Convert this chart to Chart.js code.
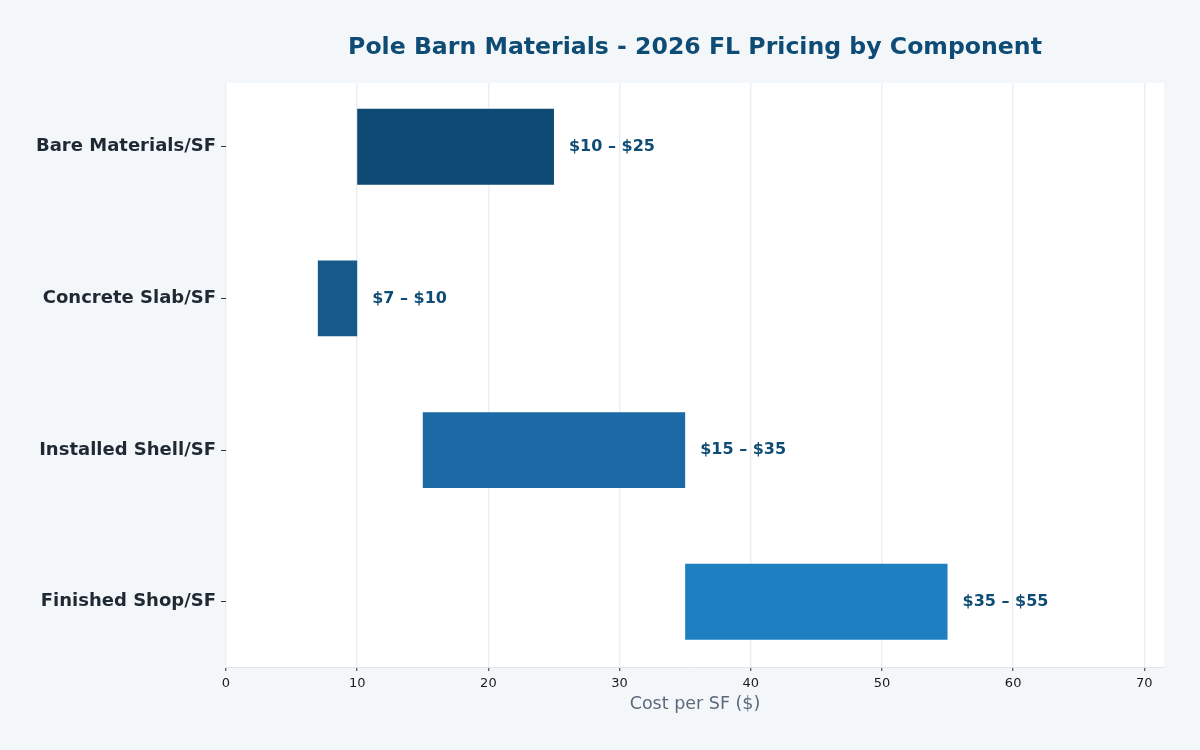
<!DOCTYPE html>
<html>
<head>
<meta charset="utf-8">
<script src="https://cdn.jsdelivr.net/npm/chart.js@4"></script>
<style>
  body { margin: 0; background: #f4f7fa; }
  canvas { display: block; }
</style>
</head>
<body>
<canvas id="myChart" width="1200" height="750"></canvas>
<script>
let categories = ["Bare Materials/SF", "Concrete Slab/SF", "Installed Shell/SF", "Finished Shop/SF"];
let lowValues = [10, 7, 15, 35];
let highValues = [25, 10, 35, 55];
let xTicks = [0, 10, 20, 30, 40, 50, 60, 70];

let titleText = "Pole Barn Materials - 2026 FL Pricing by Component";
let barColors = ["#0f4a74", "#155a8b", "#1b6aa6", "#1e7fc1"];

// build the floating bar points
let points = [];
for (let i = 0; i < categories.length; i++) {
  points.push({ x: [lowValues[i], highValues[i]], y: i });
}

// white plot area + title centred over it
const backdrop = {
  id: "backdrop",
  beforeDraw(chart) {
    const ctx = chart.ctx;
    const a = chart.chartArea;
    ctx.save();
    ctx.fillStyle = "#f4f7fa";
    ctx.fillRect(0, 0, chart.width, chart.height);
    ctx.fillStyle = "#ffffff";
    ctx.fillRect(a.left, a.top, a.right - a.left, a.bottom - a.top);
    ctx.fillStyle = "#0f4c75";
    ctx.font = "bold 23.6px 'DejaVu Sans'";
    ctx.textAlign = "center";
    ctx.textBaseline = "middle";
    ctx.fillText(titleText, (a.left + a.right) / 2, 48);
    ctx.restore();
  },
};

// "$lo – $hi" label just past the end of each bar
const rangeLabels = {
  id: "rangeLabels",
  afterDatasetsDraw(chart) {
    const ctx = chart.ctx;
    const meta = chart.getDatasetMeta(0);
    ctx.save();
    ctx.fillStyle = "#0f4c75";
    ctx.font = "bold 16px 'DejaVu Sans'";
    ctx.textAlign = "left";
    ctx.textBaseline = "middle";
    meta.data.forEach((bar, i) => {
      let text = "$" + lowValues[i] + " \u2013 $" + highValues[i];
      ctx.fillText(text, bar.x + 15, bar.y);
    });
    ctx.restore();
  },
};

const ctx = document.getElementById("myChart").getContext("2d");
const myChart = new Chart(ctx, {
  type: "bar",
  data: {
    datasets: [
      {
        data: points,
        backgroundColor: barColors,
        borderWidth: 0,
        categoryPercentage: 1,
        barPercentage: 0.5,
      },
    ],
  },
  options: {
    indexAxis: "y",
    responsive: false,
    animation: false,
    devicePixelRatio: 1,
    layout: { padding: { top: 83, right: 36, left: 0, bottom: 0 } },
    plugins: {
      legend: { display: false },
      tooltip: { enabled: false },
    },
    scales: {
      x: {
        type: "linear",
        min: 0,
        max: 71.5,
        afterBuildTicks(scale) {
          scale.ticks = xTicks.map((v) => ({ value: v }));
        },
        afterFit(scale) {
          scale.height = 83;
        },
        ticks: {
          color: "#1a1a1a",
          font: { family: "'DejaVu Sans'", size: 13 },
          padding: 5,
        },
        grid: {
          color: "#ebeff4",
          lineWidth: 1.5,
          tickColor: "#333333",
          tickLength: 4,
          tickWidth: 1,
        },
        border: { color: "#dfe5eb", width: 1 },
        title: {
          display: true,
          text: "Cost per SF ($)",
          color: "#5b6b7c",
          font: { family: "'DejaVu Sans'", size: 17.5 },
          padding: { top: 4, bottom: 35 },
        },
      },
      y: {
        type: "linear",
        reverse: true,
        offset: false,
        min: -0.42,
        max: 3.43,
        afterBuildTicks(scale) {
          scale.ticks = categories.map((c, i) => ({ value: i }));
        },
        afterFit(scale) {
          scale.width = 226;
        },
        ticks: {
          color: "#1f2933",
          font: { family: "'DejaVu Sans'", size: 18, weight: "bold" },
          padding: 5,
          callback: (v) => categories[v],
        },
        grid: {
          offset: false,
          drawOnChartArea: false,
          tickColor: "#333333",
          tickLength: 5,
        },
        border: { display: false },
      },
    },
  },
  plugins: [backdrop, rangeLabels],
});
</script>
</body>
</html>
